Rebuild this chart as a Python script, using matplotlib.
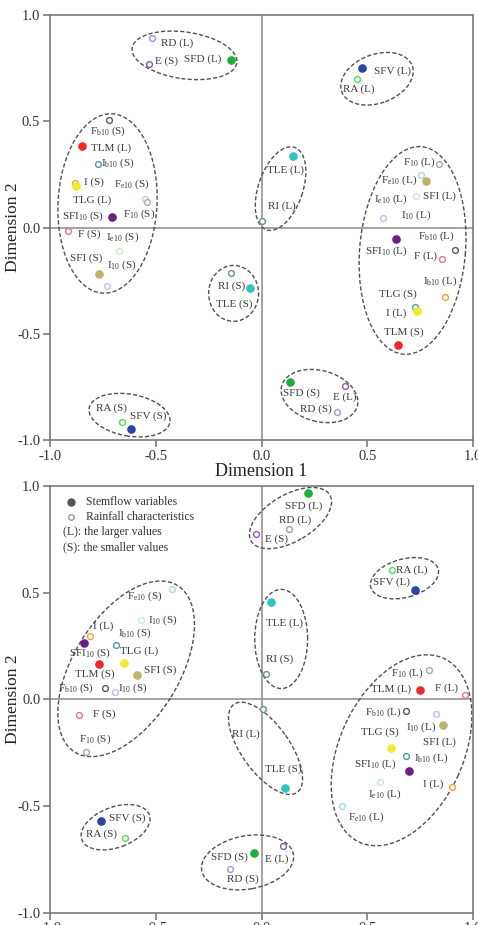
import matplotlib
matplotlib.use("Agg")
from matplotlib import pyplot as plt
from matplotlib.patches import Ellipse

plt.rcParams["font.family"] = ["Liberation Serif", "DejaVu Serif"]
plt.rcParams["mathtext.fontset"] = "custom"
plt.rcParams["mathtext.rm"] = "Liberation Serif"

# stemflow variables are drawn filled, rainfall characteristics open
stemflow = ["SFD", "SFV", "TLM", "TLG", "TLE", "SFI", "SFI10"]
colors = {"SFD": "#1fae3a", "SFV": "#2a45a8", "TLM": "#ee2a2a", "TLG": "#f2ea2e",
          "TLE": "#33c2c2", "SFI": "#bcb46e", "SFI10": "#6e1d86",
          "RD": "#9a9ad0", "E": "#8a58b8", "RA": "#4ee04e", "RI": "#5f9585",
          "F": "#e07585", "Fb10": "#5a5a5a", "F10": "#a8a8a8", "Fe10": "#a6dcdc",
          "I": "#f0a23a", "Ib10": "#4f9aa2", "I10": "#d2b8e4", "Ie10": "#c6f0c6"}

# ---- panel 1
top_var = ["SFD", "RD", "E", "SFV", "RA", "Fb10", "TLM", "Ib10", "I", "TLG",
           "Fe10", "F10", "SFI10", "F", "Ie10", "SFI", "I10", "TLE", "RI", "RI",
           "TLE", "F10", "Fe10", "SFI", "Ie10", "I10", "SFI10", "Fb10", "F", "I",
           "Ib10", "TLG", "TLM", "SFD", "E", "RD", "RA", "SFV"]
top_x = [-0.143, -0.517, -0.534, 0.476, 0.45, -0.719, -0.85, -0.774, -0.883, -0.875,
         -0.55, -0.54, -0.706, -0.916, -0.675, -0.769, -0.73, 0.148, 0.003, -0.143,
         -0.053, 0.839, 0.755, 0.778, 0.731, 0.574, 0.634, 0.913, 0.854, 0.868,
         0.727, 0.735, 0.646, 0.134, 0.394, 0.356, -0.659, -0.619]
top_y = [0.79, 0.89, 0.77, 0.75, 0.70, 0.507, 0.385, 0.30, 0.208, 0.194,
         0.136, 0.12, 0.048, -0.017, -0.111, -0.22, -0.275, 0.338, 0.03, -0.216,
         -0.286, 0.30, 0.249, 0.22, 0.147, 0.045, -0.052, -0.108, -0.146, -0.327,
         -0.372, -0.393, -0.552, -0.729, -0.745, -0.867, -0.917, -0.95]
top_labels = ["SFD (L)", "RD (L)", "E (S)", "SFV (L)", "RA (L)", r"F$_\mathrm{b10}$ (S)",
              "TLM (L)", r"I$_\mathrm{b10}$ (S)", "I (S)", "TLG (L)", r"F$_\mathrm{e10}$ (S)",
              r"F$_\mathrm{10}$ (S)", r"SFI$_\mathrm{10}$ (S)", "F (S)", r"I$_\mathrm{e10}$ (S)",
              "SFI (S)", r"I$_\mathrm{10}$ (S)", "TLE (L)", "RI (L)", "RI (S)", "TLE (S)",
              r"F$_\mathrm{10}$ (L)", r"F$_\mathrm{e10}$ (L)", "SFI (L)", r"I$_\mathrm{e10}$ (L)",
              r"I$_\mathrm{10}$ (L)", r"SFI$_\mathrm{10}$ (L)", r"F$_\mathrm{b10}$ (L)", "F (L)",
              r"I$_\mathrm{b10}$ (L)", "TLG (S)", "I (L)", "TLM (S)", "SFD (S)", "E (L)",
              "RD (S)", "RA (S)", "SFV (S)"]
top_lx = [-0.279, -0.397, -0.449, 0.621, 0.459, -0.728, -0.709, -0.681, -0.79, -0.799,
          -0.615, -0.577, -0.846, -0.813, -0.657, -0.827, -0.662, 0.113, 0.098, -0.142,
          -0.128, 0.747, 0.649, 0.842, 0.613, 0.731, 0.59, 0.826, 0.775, 0.842,
          0.644, 0.637, 0.671, 0.188, 0.392, 0.259, -0.711, -0.534]
top_ly = [0.793, 0.869, 0.784, 0.737, 0.651, 0.451, 0.371, 0.30, 0.211, 0.127,
          0.202, 0.061, 0.052, -0.033, -0.047, -0.146, -0.178, 0.272, 0.10, -0.277,
          -0.362, 0.308, 0.221, 0.147, 0.131, 0.056, -0.111, -0.041, -0.135, -0.252,
          -0.315, -0.405, -0.494, -0.781, -0.80, -0.856, -0.85, -0.886]
top_groups = [(-0.364, 0.81, 0.50, 0.22, -8), (-0.728, 0.113, 0.845, 0.468, 87),
              (-0.624, -0.883, 0.388, 0.197, -10), (0.546, 0.70, 0.355, 0.23, 20),
              (0.09, 0.183, 0.41, 0.21, 71), (-0.132, -0.31, 0.236, 0.263, 0),
              (0.714, -0.108, 0.98, 0.50, 85), (0.274, -0.793, 0.37, 0.24, -15)]

# ---- panel 2
bot_var = ["SFD", "RD", "E", "RA", "SFV", "TLE", "RI", "Fe10", "Ie10", "I",
           "Ib10", "SFI10", "TLG", "TLM", "SFI", "Fb10", "I10", "F", "F10", "SFV",
           "RA", "F10", "TLM", "F", "Fb10", "I10", "SFI", "TLG", "Ib10", "SFI10",
           "I", "Ie10", "Fe10", "RI", "TLE", "SFD", "E", "RD"]
bot_x = [0.219, 0.128, -0.025, 0.618, 0.727, 0.046, 0.022, -0.422, -0.569, -0.81,
         -0.687, -0.837, -0.652, -0.766, -0.588, -0.742, -0.695, -0.861, -0.832, -0.758,
         -0.646, 0.79, 0.75, 0.96, 0.684, 0.826, 0.86, 0.613, 0.684, 0.697,
         0.90, 0.558, 0.38, 0.009, 0.109, -0.036, 0.101, -0.151]
bot_y = [0.966, 0.797, 0.775, 0.606, 0.512, 0.457, 0.12, 0.515, 0.371, 0.297,
         0.254, 0.266, 0.168, 0.164, 0.116, 0.053, 0.034, -0.072, -0.247, -0.571,
         -0.649, 0.139, 0.042, 0.019, -0.056, -0.07, -0.122, -0.227, -0.268, -0.336,
         -0.412, -0.388, -0.50, -0.044, -0.415, -0.72, -0.69, -0.798]
bot_labels = ["SFD (L)", "RD (L)", "E (S)", "RA (L)", "SFV (L)", "TLE (L)", "RI (S)",
              r"F$_\mathrm{e10}$ (S)", r"I$_\mathrm{10}$ (S)", "I (L)", r"I$_\mathrm{b10}$ (S)",
              r"SFI$_\mathrm{10}$ (S)", "TLG (L)", "TLM (S)", "SFI (S)", r"F$_\mathrm{b10}$ (S)",
              r"I$_\mathrm{10}$ (S)", "F (S)", r"F$_\mathrm{10}$ (S)", "SFV (S)", "RA (S)",
              r"F$_\mathrm{10}$ (L)", "TLM (L)", "F (L)", r"F$_\mathrm{b10}$ (L)",
              r"I$_\mathrm{10}$ (L)", "SFI (L)", "TLG (S)", r"I$_\mathrm{b10}$ (L)",
              r"SFI$_\mathrm{10}$ (L)", "I (L)", r"I$_\mathrm{e10}$ (L)", r"F$_\mathrm{e10}$ (L)",
              "RI (L)", "TLE (S)", "SFD (S)", "E (L)", "RD (S)"]
bot_lx = [0.199, 0.159, 0.07, 0.708, 0.613, 0.109, 0.085, -0.553, -0.467, -0.747,
          -0.60, -0.813, -0.577, -0.79, -0.478, -0.876, -0.608, -0.742, -0.786, -0.637,
          -0.758, 0.692, 0.613, 0.873, 0.574, 0.755, 0.842, 0.558, 0.802, 0.539,
          0.81, 0.582, 0.495, -0.076, 0.101, -0.151, 0.074, -0.088]
bot_ly = [0.906, 0.840, 0.75, 0.606, 0.548, 0.355, 0.188, 0.484, 0.371, 0.343,
          0.308, 0.217, 0.225, 0.117, 0.136, 0.05, 0.05, -0.072, -0.189, -0.557,
          -0.634, 0.121, 0.047, 0.053, -0.06, -0.13, -0.20, -0.154, -0.276, -0.305,
          -0.40, -0.447, -0.553, -0.164, -0.33, -0.74, -0.751, -0.846]
bot_groups = [(0.137, 0.85, 0.43, 0.22, 30), (0.676, 0.568, 0.33, 0.18, 15),
              (0.093, 0.283, 0.465, 0.25, 90), (-0.64, 0.143, 0.92, 0.50, 58),
              (0.019, -0.23, 0.51, 0.225, 126), (0.662, -0.239, 0.95, 0.585, 65),
              (-0.69, -0.60, 0.34, 0.19, 20), (-0.066, -0.765, 0.44, 0.25, 10)]

ticks = [-1.0, -0.5, 0.0, 0.5, 1.0]
ticklabels = ["-1.0", "-0.5", "0.0", "0.5", "1.0"]

fig = plt.figure(figsize=(4.78, 9.25), dpi=100)
ax1 = fig.add_axes([0.1046, 0.5243, 0.885, 0.4595])
ax2 = fig.add_axes([0.1046, 0.0135, 0.885, 0.461])


def draw(ax, var, xs, ys, labels, lx, ly, groups):
    ax.axhline(0, color="#8a8a8a", lw=1.1, zorder=1)
    ax.axvline(0, color="#8a8a8a", lw=1.1, zorder=1)
    for v, x, y in zip(var, xs, ys):
        if v in stemflow:
            ax.plot(x, y, "o", ms=5.2, color=colors[v], mec=colors[v], zorder=3)
        else:
            ax.plot(x, y, "o", ms=4.2, mfc="white", mec=colors[v], mew=1.0, zorder=3)
    for t, x, y in zip(labels, lx, ly):
        ax.text(x, y, t, fontsize=8, color="#3a3a3a", ha="center", va="center", zorder=4)
    for cx, cy, w, h, a in groups:
        ax.add_patch(Ellipse((cx, cy), w, h, angle=a, fill=False, ls=(0, (3, 1.6)),
                             lw=1.0, ec="#505050", zorder=2))
    ax.set_xlim(-1, 1)
    ax.set_ylim(-1, 1)
    ax.set_xticks(ticks)
    ax.set_xticklabels(ticklabels)
    ax.set_yticks(ticks)
    ax.set_yticklabels(ticklabels)
    ax.tick_params(direction="out", length=5, width=1.1, color="#707070",
                   labelsize=10.5, labelcolor="#333333", pad=2)
    for s in ax.spines.values():
        s.set_color("#7a7a7a")
        s.set_linewidth(1.2)
    ax.set_ylabel("Dimension 2", fontsize=12.5, color="#222222")
    ax.yaxis.set_label_coords(-0.068, 0.5)


draw(ax1, top_var, top_x, top_y, top_labels, top_lx, top_ly, top_groups)
ax1.set_xlabel("Dimension 1", fontsize=13, color="#222222", labelpad=0)
draw(ax2, bot_var, bot_x, bot_y, bot_labels, bot_lx, bot_ly, bot_groups)

# legend of the lower panel
ax2.plot(0.049, 0.962, "o", ms=5, color="#555555", transform=ax2.transAxes)
ax2.plot(0.049, 0.928, "o", ms=4, mfc="white", mec="#999999", transform=ax2.transAxes)
ax2.text(0.085, 0.962, "Stemflow variables", fontsize=8.5, color="#333333",
         va="center", transform=ax2.transAxes)
ax2.text(0.085, 0.928, "Rainfall characteristics", fontsize=8.5, color="#333333",
         va="center", transform=ax2.transAxes)
ax2.text(0.031, 0.893, "(L): the larger values", fontsize=8.5, color="#333333",
         va="center", transform=ax2.transAxes)
ax2.text(0.031, 0.856, "(S): the smaller values", fontsize=8.5, color="#333333",
         va="center", transform=ax2.transAxes)

fig.savefig("out.png", dpi=100)
